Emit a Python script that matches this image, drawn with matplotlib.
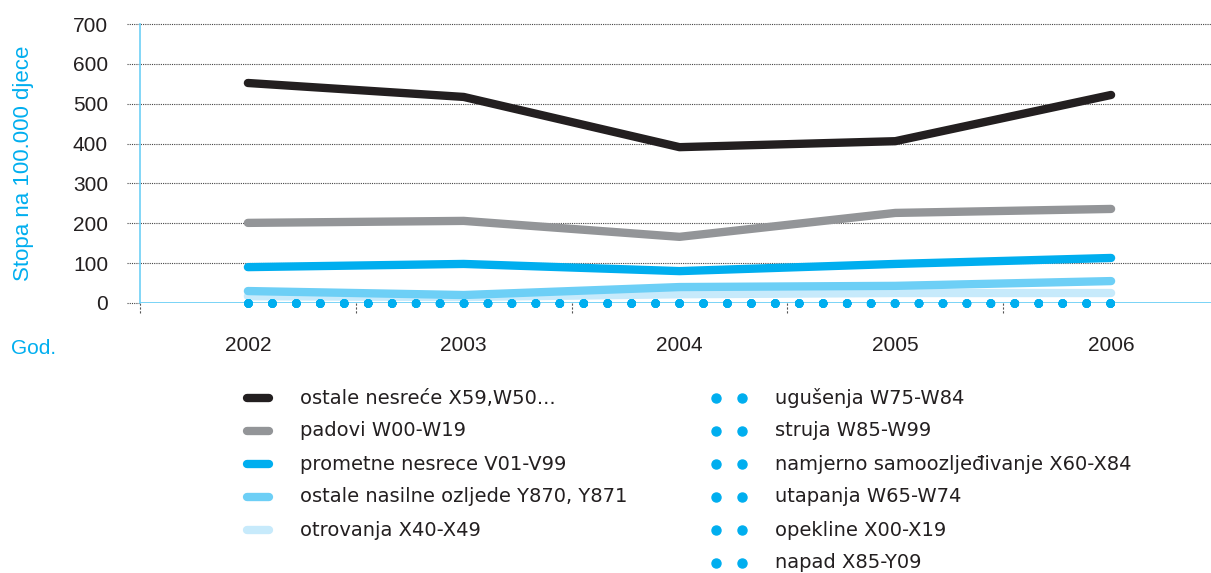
import matplotlib
matplotlib.use("Agg")
import matplotlib.pyplot as plt
from matplotlib.lines import Line2D

plt.rcParams['font.family'] = ['Liberation Sans', 'DejaVu Sans']

years = ['2002', '2003', '2004', '2005', '2006']

# solid series (rate per 100.000 children)
ostale_nesrece = [552, 517, 391, 406, 522]
padovi = [201, 206, 166, 226, 236]
prometne = [90, 98, 80, 98, 113]
nasilne = [30, 20, 40, 43, 55]
otrovanja = [17, 15, 22, 25, 25]

# dotted series, all near zero
ugusenja = [0, 0, 0, 0, 0]
struja = [0, 0, 0, 0, 0]
samoozljedivanje = [0, 0, 0, 0, 0]
utapanja = [0, 0, 0, 0, 0]
opekline = [0, 0, 0, 0, 0]
napad = [0, 0, 0, 0, 0]

solid = [
    ('ostale nesreće X59,W50...', ostale_nesrece, '#231f20'),
    ('padovi W00-W19', padovi, '#939598'),
    ('prometne nesrece V01-V99', prometne, '#00aeef'),
    ('ostale nasilne ozljede Y870, Y871', nasilne, '#6dcff6'),
    ('otrovanja X40-X49', otrovanja, '#c7eafb'),
]
dotted = [
    ('ugušenja W75-W84', ugusenja),
    ('struja W85-W99', struja),
    ('namjerno samoozljeđivanje X60-X84', samoozljedivanje),
    ('utapanja W65-W74', utapanja),
    ('opekline X00-X19', opekline),
    ('napad X85-Y09', napad),
]

BLUE = '#00aeef'
TXT = '#231f20'
W, H = 1211, 573
fig = plt.figure(figsize=(W / 100, H / 100), dpi=100)
ax = fig.add_axes([140 / W, 1 - 303 / H, 1 - 140 / W, (303 - 24) / H])

x = list(range(len(years)))
ax.set_xlim(-0.5, 4 + 100 / 216)
ax.set_ylim(0, 700)

# grid lines, extending a bit left of the axis
yt = [0, 100, 200, 300, 400, 500, 600, 700]
x0 = -0.5 - 13 / 216
ax.hlines(yt[1:], x0, ax.get_xlim()[1], colors='#444444', linewidth=0.8,
          linestyles=(0, (1, 1)), clip_on=False, zorder=1)
ax.hlines([0], x0, -0.5, colors='#444444', linewidth=0.8,
          linestyles=(0, (1, 1)), clip_on=False, zorder=1)
ax.axhline(0, color='#6dcff6', linewidth=2, zorder=2)

# category boundary marks
ax.vlines([-0.5, 0.5, 1.5, 2.5, 3.5], -25, 0, colors='#555555', linewidth=0.8,
          linestyles=(0, (2, 1.5)), clip_on=False)

for name, vals, col in reversed(solid):
    ax.plot(x, vals, color=col, linewidth=6, solid_capstyle='round',
            solid_joinstyle='round', zorder=3)
for name, vals in dotted:
    ax.plot(x, vals, color=BLUE, linewidth=6.2, linestyle=(0, (0.001, 2.78)),
            dash_capstyle='round', clip_on=False, zorder=4)

for s in ['top', 'right', 'bottom']:
    ax.spines[s].set_visible(False)
ax.spines['left'].set_color('#6dcff6')
ax.spines['left'].set_linewidth(1.2)

ax.set_yticks(yt)
ax.set_yticklabels([str(v) for v in yt], fontsize=15, color=TXT)
ax.tick_params(axis='y', length=0, pad=23)
ax.set_xticks(x)
ax.set_xticklabels(years, fontsize=15, color=TXT)
ax.tick_params(axis='x', length=0, pad=24)

ax.set_ylabel('Stopa na 100.000 djece', color=BLUE, fontsize=16)
ax.yaxis.set_label_coords(-106 / (W - 140), 0.5)
fig.text(11 / W, 1 - 348 / H, 'God.', color=BLUE, fontsize=15, va='center')

# legend, drawn by hand in figure pixels
def fx(px):
    return px / W

def fy(py):
    return 1 - py / H

for i, (name, vals, col) in enumerate(solid):
    yy = 398 + 33 * i
    fig.add_artist(Line2D([fx(247), fx(269)], [fy(yy), fy(yy)], color=col,
                          linewidth=6, solid_capstyle='round'))
    fig.text(fx(300), fy(yy), name, fontsize=14, color=TXT, va='center',
             family='DejaVu Sans')

for i, (name, vals) in enumerate(dotted):
    yy = 398 + 33 * i
    fig.add_artist(Line2D([fx(716), fx(742)], [fy(yy), fy(yy)], color=BLUE,
                          linestyle='none', marker='o', markersize=6.5))
    fig.text(fx(775), fy(yy), name, fontsize=14, color=TXT, va='center',
             family='DejaVu Sans')

fig.savefig('out.png', dpi=100)
